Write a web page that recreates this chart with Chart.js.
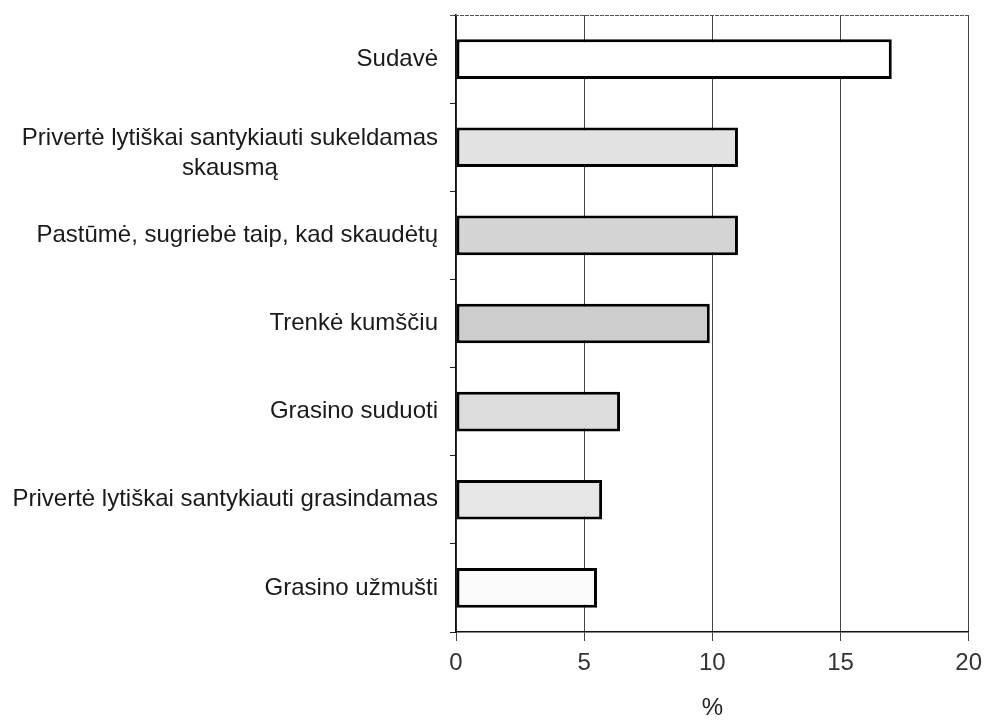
<!DOCTYPE html>
<html>
<head>
<meta charset="utf-8">
<script src="https://cdn.jsdelivr.net/npm/chart.js@4"></script>
<style>
  body { margin: 0; background: #fff; }
  #wrap { width: 992px; height: 720px; }
</style>
</head>
<body>
<div id="wrap"><canvas id="chart" width="992" height="720"></canvas></div>
<script>
// categories, top to bottom
const categories = [
    ['Sudavė'],
    ['Privertė lytiškai santykiauti sukeldamas', 'skausmą'],
    ['Pastūmė, sugriebė taip, kad skaudėtų'],
    ['Trenkė kumščiu'],
    ['Grasino suduoti'],
    ['Privertė lytiškai santykiauti grasindamas'],
    ['Grasino užmušti']
];
const values = [17.0, 11.0, 11.0, 9.9, 6.4, 5.7, 5.5];
const barFills = ['#ffffff', '#e2e2e2', '#d4d4d4', '#cdcdcd', '#dcdcdc', '#e6e6e6', '#fafafa'];
const xTicks = [0, 5, 10, 15, 20];

const FONT = '"Liberation Sans", Arial, sans-serif';

// draws the category labels: right aligned block, lines centred inside it
const categoryLabels = {
    id: 'categoryLabels',
    afterDraw(chart) {
        const ctx = chart.ctx;
        const yScale = chart.scales.y;
        ctx.save();
        ctx.font = '24px ' + FONT;
        ctx.fillStyle = '#1a1a1a';
        ctx.textAlign = 'center';
        ctx.textBaseline = 'middle';
        const lineH = 30;
        categories.forEach((lines, i) => {
            const mid = yScale.getPixelForValue(i);
            const w = Math.max(...lines.map(l => ctx.measureText(l).width));
            const right = yScale.right - 18;
            const cx = right - w / 2;
            const startY = mid - (lines.length - 1) * lineH / 2 + (lines.length > 1 ? 6 : 0);
            lines.forEach((l, k) => ctx.fillText(l, cx, startY + k * lineH));
        });
        ctx.restore();
    }
};

// top edge of the plot frame
const topFrame = {
    id: 'topFrame',
    beforeDatasetsDraw(chart) {
        const { ctx, chartArea } = chart;
        ctx.save();
        ctx.strokeStyle = '#555';
        ctx.lineWidth = 1;
        ctx.setLineDash([4, 1]);
        ctx.beginPath();
        ctx.moveTo(chartArea.left - 6, chartArea.top + 0.5);
        ctx.lineTo(chartArea.right, chartArea.top + 0.5);
        ctx.stroke();
        ctx.restore();
    }
};

new Chart(document.getElementById('chart'), {
    type: 'bar',
    data: {
        labels: categories.map(c => c.join(' ')),
        datasets: [{
            data: values,
            backgroundColor: barFills,
            borderColor: '#000',
            borderWidth: 3,
            borderSkipped: false,
            barPercentage: 0.45,
            categoryPercentage: 1
        }]
    },
    options: {
        indexAxis: 'y',
        responsive: false,
        animation: false,
        layout: { padding: { top: 15, right: 15, left: 0, bottom: 0 } },
        plugins: {
            legend: { display: false },
            tooltip: { enabled: false }
        },
        scales: {
            x: {
                min: 0,
                max: 20,
                afterBuildTicks: scale => { scale.ticks = xTicks.map(v => ({ value: v })); },
                grid: { color: '#444', lineWidth: 1, tickLength: 9, drawTicks: true },
                border: { color: '#111', width: 1.5 },
                ticks: {
                    color: '#333',
                    font: { family: FONT, size: 24, lineHeight: 1 },
                    padding: 10
                },
                title: {
                    display: true,
                    text: '%',
                    color: '#222',
                    font: { family: FONT, size: 24, lineHeight: 1 },
                    padding: { top: 11, bottom: 0 }
                }
            },
            y: {
                afterFit: scale => { scale.width = 456; },
                grid: { drawOnChartArea: false, offset: true, tickLength: 6, color: '#222' },
                border: { color: '#111', width: 1.5 },
                ticks: { color: 'transparent', font: { family: FONT, size: 20 } }
            }
        }
    },
    plugins: [categoryLabels, topFrame]
});
</script>
</body>
</html>
